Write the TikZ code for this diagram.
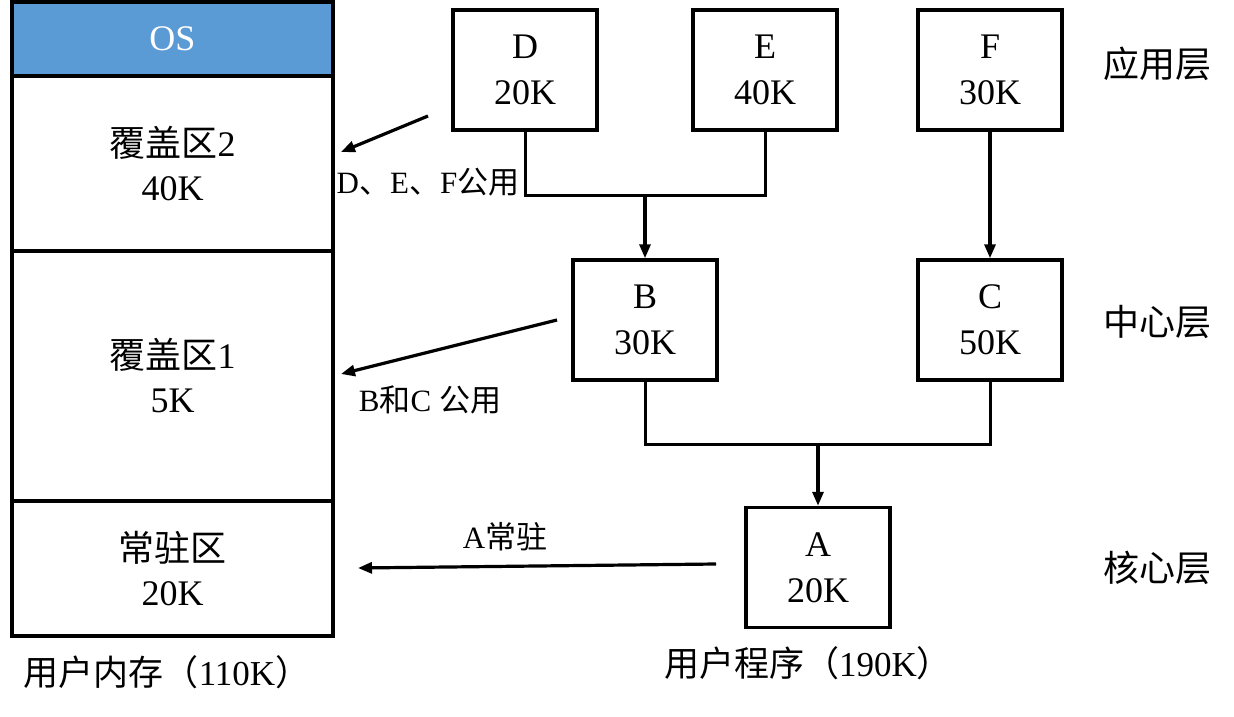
\documentclass[tikz,border=0pt]{standalone}
\usepackage{fontspec}
\setmainfont{Liberation Serif}
\newfontfamily\cjk{Noto Sans CJK SC}
\usetikzlibrary{arrows.meta}
\definecolor{osblue}{HTML}{5B9BD5}
\begin{document}
\begin{tikzpicture}[x=1pt,y=-1pt,
  blk/.style={draw=black,line width=3.5pt,fill=white,minimum width=144pt,minimum height=120pt,inner sep=0pt,align=center,font=\fontsize{36}{46}\selectfont},
  mem/.style={draw=black,line width=3.5pt,minimum width=321pt,inner sep=0pt,align=center,font=\fontsize{36}{44}\selectfont},
  lbl/.style={inner sep=0pt,font=\fontsize{31}{36}\selectfont},
  layer/.style={inner sep=0pt,font=\fontsize{36}{40}\selectfont\cjk},
  bot/.style={inner sep=0pt,font=\fontsize{35}{40}\selectfont},
  wire/.style={line width=3pt},
  arr/.style={line width=3.2pt,-{Triangle[length=14pt,width=11pt]}}]
\useasboundingbox (0,0) rectangle (1234,717);
% memory column
\node[mem,fill=osblue,minimum height=74pt,text=white] (os) at (172.5,39) {OS};
\node[mem,minimum height=175pt] (ov2) at (172.5,163.5) {{\cjk 覆盖区}2\\40K};
\node[mem,minimum height=250pt] (ov1) at (172.5,376) {{\cjk 覆盖区}1\\5K};
\node[mem,minimum height=135pt] (res) at (172.5,568.5) {{\cjk 常驻区}\\20K};
% program modules
\node[blk] (D) at (525,70) {D\\20K};
\node[blk] (E) at (765,70) {E\\40K};
\node[blk] (F) at (990,70) {F\\30K};
\node[blk] (B) at (645,320) {B\\30K};
\node[blk] (C) at (990,320) {C\\50K};
\node[blk] (A) at (818,567.5) {A\\20K};
% tree connectors
\coordinate (j1) at (645,195);
\coordinate (j2) at (818,444);
\draw[wire] (D.south) |- (j1) -| (E.south);
\draw[arr] (j1) -- (B.north);
\draw[arr] (F.south) -- (C.north);
\draw[wire] (B.south) |- (j2) -| (C.south);
\draw[arr] (j2) -- (A.north);
% arrows into memory
\coordinate (s2) at (428,116);
\coordinate (e2) at (341,152);
\coordinate (s1) at (557,320);
\coordinate (e1) at (341,374);
\coordinate (s0) at (716,564);
\coordinate (e0) at (358,568);
\draw[arr] (s2) -- (e2);
\draw[arr] (s1) -- (e1);
\draw[arr] (s0) -- (e0);
\node[lbl] (l2) at (428,182) {D{\cjk 、}E{\cjk 、}F{\cjk 公用}};
\node[lbl] (l1) at (430,400) {B{\cjk 和}C {\cjk 公用}};
\node[lbl] (l0) at (505,537) {A{\cjk 常驻}};
% layer labels
\node[layer] (lay1) at (1157,64) {应用层};
\node[layer] (lay2) at (1157,322) {中心层};
\node[layer] (lay3) at (1157,568) {核心层};
% captions
\node[bot] (cap1) at (167,672) {{\cjk 用户内存（}110K{\cjk ）}};
\node[bot] (cap2) at (808,663) {{\cjk 用户程序（}190K{\cjk ）}};
\end{tikzpicture}
\end{document}
